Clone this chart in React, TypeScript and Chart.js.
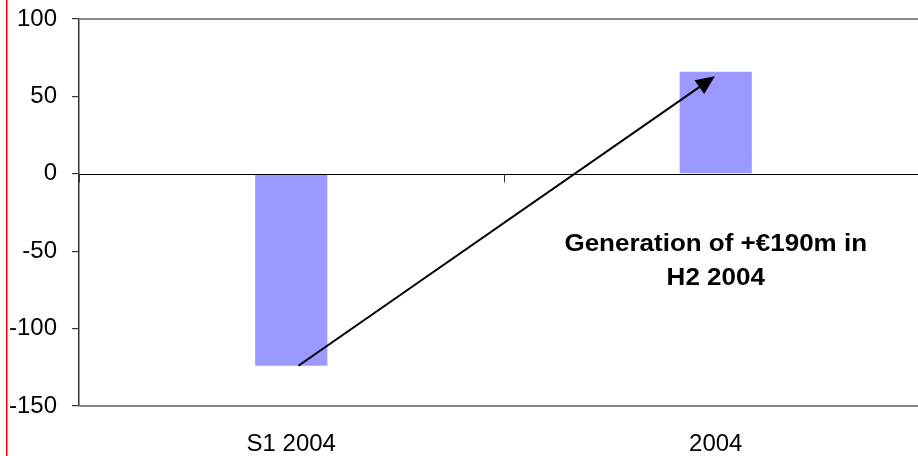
import React, { useEffect, useRef } from "react";
import { Chart, registerables } from "chart.js";

Chart.register(...registerables);

const categories = ["S1 2004", "2004"];
const values = [-124, 66];
const yTicks = [-150, -100, -50, 0, 50, 100];
const annotationLines = ["Generation of +€190m in", "H2 2004"];
const annotationAnchor = { x: 1.0, y: [-45.5, -67.5] };
const arrowFrom = { x: 0.017, y: -124 };
const arrowTo = { x: 0.998, y: 63 };

const FONT = "'Liberation Sans', Arial, sans-serif";

const decorPlugin = {
  id: "decor",
  beforeDatasetsDraw(chart: any) {
    const { ctx, chartArea } = chart;
    ctx.save();
    ctx.strokeStyle = "#888888";
    ctx.lineWidth = 2;
    ctx.beginPath();
    ctx.moveTo(chartArea.left, chartArea.top);
    ctx.lineTo(chartArea.right, chartArea.top);
    ctx.moveTo(chartArea.left, chartArea.bottom);
    ctx.lineTo(chartArea.right, chartArea.bottom);
    ctx.stroke();
    ctx.restore();
  },
  afterDatasetsDraw(chart: any) {
    const { ctx, chartArea, scales } = chart;
    const xs = scales.x;
    const ys = scales.y;
    const y0 = Math.round(ys.getPixelForValue(0)) + 0.5;
    ctx.save();
    // zero line
    ctx.strokeStyle = "#000";
    ctx.lineWidth = 1.2;
    ctx.beginPath();
    ctx.moveTo(chartArea.left, y0);
    ctx.lineTo(chartArea.right, y0);
    ctx.stroke();
    // category boundary ticks
    ctx.strokeStyle = "#333";
    ctx.lineWidth = 1;
    ctx.beginPath();
    for (let i = -0.5; i <= categories.length - 0.5; i += 1) {
      const px = Math.round(xs.getPixelForValue(i)) + 0.5;
      ctx.moveTo(px, y0);
      ctx.lineTo(px, y0 + 8);
    }
    ctx.stroke();

    // arrow
    const x1 = xs.getPixelForValue(arrowFrom.x);
    const y1 = ys.getPixelForValue(arrowFrom.y);
    const x2 = xs.getPixelForValue(arrowTo.x);
    const y2 = ys.getPixelForValue(arrowTo.y);
    const ang = Math.atan2(y2 - y1, x2 - x1);
    const headLen = 19;
    const headW = 8.5;
    const bx = x2 - headLen * Math.cos(ang);
    const by = y2 - headLen * Math.sin(ang);
    ctx.strokeStyle = "#000";
    ctx.lineWidth = 2;
    ctx.beginPath();
    ctx.moveTo(x1, y1);
    ctx.lineTo(bx, by);
    ctx.stroke();
    ctx.fillStyle = "#000";
    ctx.beginPath();
    ctx.moveTo(x2, y2);
    ctx.lineTo(bx + headW * Math.sin(ang), by - headW * Math.cos(ang));
    ctx.lineTo(bx - headW * Math.sin(ang), by + headW * Math.cos(ang));
    ctx.closePath();
    ctx.fill();

    // annotation text
    ctx.font = `bold 23px ${FONT}`;
    ctx.textAlign = "center";
    ctx.textBaseline = "middle";
    const cx = xs.getPixelForValue(annotationAnchor.x);
    annotationLines.forEach((line, i) => {
      const cy = ys.getPixelForValue(annotationAnchor.y[i]);
      ctx.save();
      ctx.translate(cx, cy);
      ctx.scale(1.13, 1);
      ctx.fillText(line, 0, 0);
      ctx.restore();
    });

    ctx.restore();
  },
  afterDraw(chart: any) {
    const { ctx } = chart;
    ctx.save();
    ctx.fillStyle = "#ff0000";
    ctx.fillRect(6, 0, 1.5, chart.height);
    ctx.restore();
  },
};

export default function App() {
  const ref = useRef<HTMLCanvasElement | null>(null);
  useEffect(() => {
    if (!ref.current) return;
    const chart = new Chart(ref.current, {
      type: "bar",
      data: {
        labels: categories,
        datasets: [
          {
            data: values,
            backgroundColor: "#9999FF",
            borderWidth: 0,
            barPercentage: 0.17,
            categoryPercentage: 1,
          },
        ],
      },
      options: {
        responsive: false,
        animation: false,
        layout: { padding: { top: 19, left: 0, right: 0, bottom: 0 } },
        plugins: { legend: { display: false }, tooltip: { enabled: false } },
        scales: {
          x: {
            type: "category",
            offset: true,
            grid: { display: false, drawTicks: false },
            border: { display: false },
            ticks: {
              color: "#000",
              font: { family: FONT, size: 24 },
              padding: 24,
              maxRotation: 0,
            },
            afterFit: (s: any) => {
              s.height = 50;
              s.paddingLeft = 0;
              s.paddingRight = 0;
            },
          },
          y: {
            min: -150,
            max: 100,
            afterBuildTicks: (s: any) => {
              s.ticks = yTicks.map((v) => ({ value: v }));
            },
            ticks: {
              color: "#000",
              font: { family: FONT, size: 24 },
              padding: 15,
            },
            grid: {
              drawOnChartArea: false,
              tickLength: 7,
              color: "#333",
              lineWidth: 1.2,
            },
            border: { display: true, color: "#333", width: 1.5 },
            afterFit: (s: any) => {
              s.width = 79;
              s.paddingTop = 0;
              s.paddingBottom = 0;
            },
          },
        },
      },
      plugins: [decorPlugin],
    });
    return () => chart.destroy();
  }, []);
  return (
    <div
      style={{
        position: "absolute",
        left: 0,
        top: 0,
        width: 918,
        height: 456,
        overflow: "hidden",
        background: "#fff",
      }}
    >
      <canvas ref={ref} width={928} height={456} style={{ display: "block" }} />
    </div>
  );
}
